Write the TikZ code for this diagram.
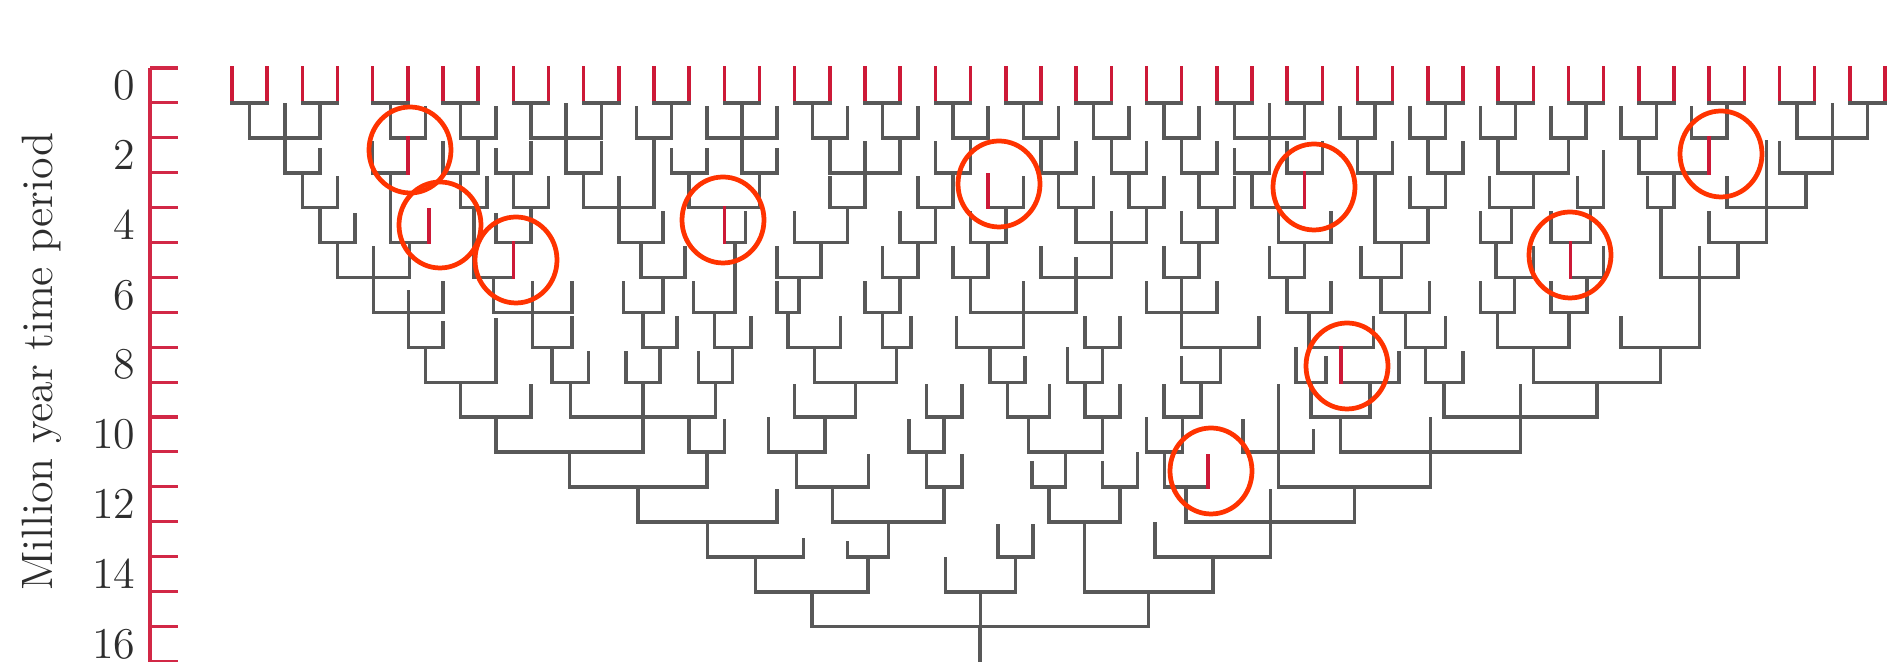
\documentclass[tikz,border=0pt]{standalone}
\usepackage{fontspec}
\definecolor{axred}{RGB}{210,40,70}
\definecolor{leafred}{RGB}{205,25,55}
\definecolor{treegray}{RGB}{88,88,88}
\definecolor{ringred}{RGB}{255,51,0}
\definecolor{labgray}{RGB}{45,45,45}
\tikzset{
  tl/.style={draw=treegray, line width=1pt, line cap=rect},
  rl/.style={draw=leafred, line width=1pt, line cap=rect},
  ringst/.style={draw=ringred, line width=1.35pt},
  ticklab/.style={font=\fontsize{12.5}{14}\selectfont, text=labgray, anchor=east, inner sep=0pt},
}
\newcommand\hb[3]{\draw[tl] (#2,#1) -- (#3,#1);}
\newcommand\vl[3]{\draw[tl] (#1,#2) -- (#1,#3);}
\newcommand\rv[3]{\draw[rl] (#1,#2) -- (#1,#3);}
\newcommand\ringat[3]{%
  \coordinate (#1) at (#2,#3);
  \draw[ringst] ({#2+41},#3) .. controls ({#2+41},{#3+23.75}) and ({#2+22.64},{#3+43}) .. (#2,{#3+43})
     .. controls ({#2-22.64},{#3+43}) and ({#2-41},{#3+23.75}) .. ({#2-41},#3)
     .. controls ({#2-41},{#3-23.75}) and ({#2-22.64},{#3-43}) .. (#2,{#3-43})
     .. controls ({#2+22.64},{#3-43}) and ({#2+41},{#3-23.75}) .. ({#2+41},#3) -- cycle;}
\begin{document}
\begin{tikzpicture}[x=0.01cm, y=-0.01cm]
\useasboundingbox (0,0) rectangle (1890,662);
\fill[white] (0,0) rectangle (1890,662);
% axis
\draw[axred, line width=0.9pt] (150,68) -- (150,662);
\foreach \k in {0,...,17} {\draw[axred, line width=0.9pt] (150,{68+34.9*\k}) -- (178,{68+34.9*\k});}
\foreach \n in {0,2,...,16} {\node[ticklab] (lab\n) at (136,{85.5+34.9*\n}) {\n};}
\node[rotate=90, text=labgray, font=\fontsize{12.5}{14}\selectfont] (title) at (42,362) {Million year time period};
\begin{scope}[shift={(232,68)}, x=0.3515cm, y=-0.349cm]
% leaves
\foreach \i in {0,...,23} {
  \draw[rl] ({2*\i},0) -- ({2*\i},1);
  \draw[rl] ({2*\i+1},0) -- ({2*\i+1},1);
  \draw[tl] ({2*\i},1) -- ({2*\i+1},1);
  \draw[tl] ({2*\i+0.5},1) -- ({2*\i+0.5},2);
}
% level 2
\foreach \s in {5.5,7.5,11.5,13.5,15.5,17.5,19.5,21.5,23.5,25.5,27.5,31.5,33.5,35.5,37.5,39.5,41.5} {\vl{\s}{1.15}{2}}
\foreach \s in {1.5,9.5,29.5,45.5} {\vl{\s}{1.05}{2}}
\foreach \a/\b in {0.5/2.5,4.5/5.5,6.5/7.5,8.5/10.5,11.5/12.5,13.5/15.5,16.5/17.5,18.5/19.5,20.5/21.5,22.5/23.5,24.5/25.5,26.5/27.5,28.5/30.5,31.5/32.5,33.5/34.5,35.5/36.5,37.5/38.5,39.5/40.5,41.5/42.5,44.5/46.5} {\hb{2}{\a}{\b}}
% level 3
\hb{3}{1.5}{2.5} \vl{1.5}{2}{3} \vl{2.5}{2.35}{3}
\hb{3}{4}{5} \vl{4}{2.15}{3} \rv{5}{2}{3}
\hb{3}{6}{7} \vl{6}{2.15}{3} \vl{7}{2}{3}
\hb{3}{7.5}{8.5} \vl{7.5}{2.35}{3} \vl{8.5}{2.15}{3}
\hb{3}{9.5}{10.5} \vl{9.5}{2}{3} \vl{10.5}{2.15}{3}
\hb{3}{12.5}{13.5} \vl{12.5}{2.35}{3} \vl{13.5}{2.35}{3}
\hb{3}{14.5}{15.5} \vl{14.5}{2}{3} \vl{15.5}{2.35}{3}
\hb{3}{17}{19} \vl{17}{2}{3} \vl{19}{2}{3} \vl{18}{2.15}{3}
\hb{3}{20}{21} \vl{20}{2.15}{3} \vl{21}{2}{3}
\hb{3}{23}{24} \vl{23}{2}{3} \vl{24}{2.15}{3}
\hb{3}{25}{26} \vl{25}{2}{3} \vl{26}{2.15}{3}
\hb{3}{27}{28} \vl{27}{2}{3} \vl{28}{2.15}{3}
\hb{3}{28.5}{29.5} \vl{28.5}{2.35}{3} \vl{29.5}{2}{3}
\hb{3}{30}{31} \vl{30}{2.15}{3} \vl{31}{2.15}{3}
\hb{3}{32}{33} \vl{32}{2}{3} \vl{33}{2.15}{3}
\hb{3}{34}{35} \vl{34}{2}{3} \vl{35}{2.15}{3}
\hb{3}{36}{38} \vl{36}{2}{3} \vl{38}{2}{3}
\hb{3}{40}{42} \vl{40}{2}{3} \rv{42}{2}{3}
\hb{3}{44}{45.5} \vl{44}{2.15}{3} \vl{45.5}{2}{3}
% level 4
\hb{4}{2}{3} \vl{2}{3}{4} \vl{3}{3.15}{4}
\hb{4}{6.5}{7.25} \vl{6.5}{3}{4} \vl{7.25}{3.15}{4}
\hb{4}{8}{9} \vl{8}{3}{4} \vl{9}{3.15}{4}
\hb{4}{10}{12} \vl{10}{3}{4} \vl{12}{2}{4} \vl{11}{3.15}{4}
\hb{4}{13}{15} \vl{13}{3}{4} \vl{15}{3}{4}
\hb{4}{17}{18} \vl{17}{3.15}{4} \vl{18}{3}{4}
\hb{4}{19.5}{20.5} \vl{19.5}{3.15}{4} \vl{20.5}{3}{4}
\hb{4}{21.5}{22.5} \rv{21.5}{3.05}{4} \vl{22.5}{3.15}{4}
\hb{4}{23.5}{24.5} \vl{23.5}{3}{4} \vl{24.5}{3.15}{4}
\hb{4}{25.5}{26.5} \vl{25.5}{3}{4} \vl{26.5}{3.15}{4}
\hb{4}{27.5}{28.5} \vl{27.5}{3}{4} \vl{28.5}{3.15}{4}
\hb{4}{29}{30.5} \vl{29}{3}{4} \rv{30.5}{3}{4}
\hb{4}{33.5}{34.5} \vl{33.5}{3.15}{4} \vl{34.5}{3}{4}
\hb{4}{35.75}{37} \vl{35.75}{3.15}{4} \vl{37}{3}{4}
\hb{4}{38.25}{39} \vl{38.25}{3.15}{4} \vl{39}{2.4}{4}
\hb{4}{40.25}{41} \vl{40.25}{3.15}{4} \vl{41}{3}{4}
\hb{4}{42.5}{44.75} \vl{42.5}{3.15}{4} \vl{44.75}{3}{4} \vl{43.625}{2.1}{4}
% level 5
\hb{5}{2.5}{3.5} \vl{2.5}{4}{5} \vl{3.5}{4.2}{5}
\hb{5}{4.5}{5.6} \vl{4.5}{3}{5} \rv{5.6}{4.05}{5}
\hb{5}{7.5}{8.5} \vl{7.5}{4.2}{5} \vl{8.5}{4}{5}
\hb{5}{11}{12.25} \vl{11}{4}{5} \vl{12.25}{4.15}{5}
\hb{5}{14}{14.6} \rv{14}{4}{5} \vl{14.6}{4.15}{5}
\hb{5}{16}{17.5} \vl{16}{4.15}{5} \vl{17.5}{4}{5}
\hb{5}{19}{20} \vl{19}{4.15}{5} \vl{20}{4}{5}
\hb{5}{21}{22} \vl{21}{4.15}{5} \vl{22}{4}{5}
\hb{5}{24}{26} \vl{24}{4}{5} \vl{26}{4}{5} \vl{25}{4.15}{5}
\hb{5}{27}{28} \vl{27}{4.15}{5} \vl{28}{4}{5}
\hb{5}{29.75}{31.25} \vl{29.75}{4}{5} \vl{31.25}{4.15}{5}
\hb{5}{32.5}{34} \vl{32.5}{3}{5} \vl{34}{4}{5}
\hb{5}{35.5}{36.375} \vl{35.5}{4.15}{5} \vl{36.375}{4}{5}
\hb{5}{37.5}{38.625} \vl{37.5}{4.15}{5} \vl{38.625}{4}{5}
\hb{5}{42}{43.625} \vl{42}{4.15}{5} \vl{43.625}{4}{5}
% level 6
\hb{6}{3}{5.05} \vl{3}{5}{6} \vl{5.05}{5}{6} \vl{4.025}{5.15}{6}
\hb{6}{6.875}{8} \vl{6.875}{4}{6} \rv{8}{5}{6}
\hb{6}{11.625}{12.875} \vl{11.625}{5}{6} \vl{12.875}{5.15}{6}
\hb{6}{15.5}{16.75} \vl{15.5}{5.15}{6} \vl{16.75}{5}{6}
\hb{6}{18.5}{19.5} \vl{18.5}{5.15}{6} \vl{19.5}{5}{6}
\hb{6}{20.5}{21.5} \vl{20.5}{5.15}{6} \vl{21.5}{5}{6}
\hb{6}{23}{25} \vl{23}{5.15}{6} \vl{25}{5}{6} \vl{24}{5.45}{6}
\hb{6}{26.5}{27.5} \vl{26.5}{5.15}{6} \vl{27.5}{5}{6}
\hb{6}{29.5}{30.5} \vl{29.5}{5.15}{6} \vl{30.5}{5}{6}
\hb{6}{32.1}{33.25} \vl{32.1}{5.15}{6} \vl{33.25}{5}{6}
\hb{6}{35.9375}{37} \vl{35.9375}{5}{6} \vl{37}{5.15}{6}
\hb{6}{38.0625}{39} \rv{38.0625}{5}{6} \vl{39}{5.15}{6}
\hb{6}{40.625}{42.8125} \vl{40.625}{4}{6} \vl{42.8125}{5}{6} \vl{41.72}{5.15}{6}
% level 7
\hb{7}{4.025}{6} \vl{4.025}{6}{7} \vl{6}{6.15}{7} \vl{5.0125}{6.4}{7}
\hb{7}{7.4375}{9.66} \vl{7.4375}{6}{7} \vl{9.66}{6.15}{7} \vl{8.55}{6.15}{7}
\hb{7}{11.125}{12.25} \vl{11.125}{6.15}{7} \vl{12.25}{6}{7}
\hb{7}{13.125}{14.3} \vl{13.125}{6.15}{7} \vl{14.3}{5}{7}
\hb{7}{15.5}{16.125} \vl{15.5}{6.15}{7} \vl{16.125}{6}{7}
\hb{7}{18}{19} \vl{18}{6.15}{7} \vl{19}{6}{7}
\hb{7}{21}{24} \vl{21}{6}{7} \vl{24}{6}{7} \vl{22.5}{6.15}{7}
\hb{7}{26}{28} \vl{26}{6.15}{7} \vl{28}{6.15}{7} \vl{27}{6}{7}
\hb{7}{30}{31.25} \vl{30}{6}{7} \vl{31.25}{6.15}{7}
\hb{7}{32.675}{34.05} \vl{32.675}{6}{7} \vl{34.05}{6.15}{7}
\hb{7}{35.5}{36.47} \vl{35.5}{6.15}{7} \vl{36.47}{6}{7}
\hb{7}{37.5}{38.53} \vl{37.5}{6.15}{7} \vl{38.53}{6}{7}
% level 8
\hb{8}{5.0125}{6} \vl{5.0125}{7}{8} \vl{6}{7.3}{8}
\hb{8}{8.55}{9.66} \vl{8.55}{7}{8} \vl{9.66}{7.15}{8}
\hb{8}{11.6875}{12.65} \vl{11.6875}{7}{8} \vl{12.65}{7.15}{8}
\hb{8}{13.7125}{14.75} \vl{13.7125}{7}{8} \vl{14.75}{7.15}{8}
\hb{8}{15.8125}{17.3} \vl{15.8125}{7}{8} \vl{17.3}{7.15}{8}
\hb{8}{18.5}{19.3} \vl{18.5}{7}{8} \vl{19.3}{7.15}{8}
\hb{8}{20.6}{22.5} \vl{20.6}{7.15}{8} \vl{22.5}{7}{8}
\hb{8}{24.25}{25.25} \vl{24.25}{7.15}{8} \vl{25.25}{7.15}{8}
\hb{8}{27}{29.2} \vl{27}{7}{8} \vl{29.2}{7.15}{8}
\hb{8}{30.625}{32.45} \vl{30.625}{7}{8} \vl{32.45}{7.15}{8}
\hb{8}{33.3625}{34.5} \vl{33.3625}{7}{8} \vl{34.5}{7.15}{8}
\hb{8}{35.985}{38.015} \vl{35.985}{7}{8} \vl{38.015}{7}{8}
\hb{8}{39.5}{41.72} \vl{39.5}{7.15}{8} \vl{41.72}{6}{8}
% level 9
\hb{9}{5.50625}{7.5} \vl{5.50625}{8}{9} \vl{7.5}{7.2}{9}
\hb{9}{9.105}{10.14} \vl{9.105}{8}{9} \vl{10.14}{8.15}{9}
\hb{9}{11.2}{12.16875} \vl{11.2}{8.15}{9} \vl{12.16875}{8}{9}
\hb{9}{13.27}{14.23125} \vl{13.27}{8.15}{9} \vl{14.23125}{8}{9}
\hb{9}{16.55625}{18.9} \vl{16.55625}{8}{9} \vl{18.9}{8}{9}
\hb{9}{21.55}{22.55} \vl{21.55}{8}{9} \vl{22.55}{8.3}{9}
\hb{9}{23.75}{24.75} \vl{23.75}{8.05}{9} \vl{24.75}{8}{9}
\hb{9}{27}{28.1} \vl{27}{8.3}{9} \vl{28.1}{8}{9}
\hb{9}{30.25}{31.1} \vl{30.25}{8.05}{9} \vl{31.1}{8.3}{9}
\hb{9}{31.5375}{33.18} \rv{31.5375}{8}{9} \vl{33.18}{8.15}{9}
\hb{9}{33.93}{35} \vl{33.93}{8}{9} \vl{35}{8.15}{9}
\hb{9}{37}{40.61} \vl{37}{8}{9} \vl{40.61}{8}{9}
% level 10
\hb{10}{6.503}{8.5} \vl{6.503}{9}{10} \vl{8.5}{9.1}{10}
\hb{10}{9.6225}{13.75} \vl{9.6225}{9}{10} \vl{13.75}{9}{10} \vl{11.684}{9}{10}
\hb{10}{16}{17.728} \vl{16}{9.1}{10} \vl{17.728}{9}{10}
\hb{10}{19.75}{20.75} \vl{19.75}{9.1}{10} \vl{20.75}{9.1}{10}
\hb{10}{22.05}{23.25} \vl{22.05}{9}{10} \vl{23.25}{9.1}{10}
\hb{10}{24.25}{25.25} \vl{24.25}{9}{10} \vl{25.25}{9.1}{10}
\hb{10}{26.5}{27.55} \vl{26.5}{9.1}{10} \vl{27.55}{9}{10}
\hb{10}{30.675}{32.36} \vl{30.675}{9}{10} \vl{32.36}{9}{10}
\hb{10}{34.465}{38.805} \vl{34.465}{9}{10} \vl{38.805}{9}{10} \vl{36.635}{9.1}{10}
% level 11
\hb{11}{7.5}{11.686} \vl{7.5}{10}{11} \vl{11.686}{10}{11}
\hb{11}{13}{14} \vl{13}{10.1}{11} \vl{14}{10.1}{11}
\hb{11}{15.25}{16.864} \vl{15.25}{10.05}{11} \vl{16.864}{10}{11}
\hb{11}{19.25}{20.25} \vl{19.25}{10.1}{11} \vl{20.25}{10}{11}
\hb{11}{22.65}{24.75} \vl{22.65}{10}{11} \vl{24.75}{10}{11}
\hb{11}{26}{27.025} \vl{26}{10.05}{11} \vl{27.025}{10}{11}
\hb{11}{28.75}{30.75} \vl{28.75}{10.1}{11} \vl{30.75}{10.4}{11} \vl{29.75}{9.1}{11}
\hb{11}{31.5175}{36.635} \vl{31.5175}{10}{11} \vl{36.635}{10}{11} \vl{34.076}{10.05}{11}
% level 12
\hb{12}{9.593}{13.5} \vl{9.593}{11}{12} \vl{13.5}{11}{12}
\hb{12}{16.057}{18.1} \vl{16.057}{11}{12} \vl{18.1}{11.1}{12}
\hb{12}{19.75}{20.75} \vl{19.75}{11}{12} \vl{20.75}{11.1}{12}
\hb{12}{22.75}{23.7} \vl{22.75}{11.3}{12} \vl{23.7}{11}{12}
\hb{12}{24.75}{25.75} \vl{24.75}{11.3}{12} \vl{25.75}{11.05}{12}
\hb{12}{26.5125}{27.75} \vl{26.5125}{11}{12} \rv{27.75}{11.1}{12}
\hb{12}{29.75}{34.076} \vl{29.75}{11}{12} \vl{34.076}{11}{12}
% level 13
\hb{13}{11.5465}{15.5} \vl{11.5465}{12}{13} \vl{15.5}{12.1}{13}
\hb{13}{17.0785}{20.25} \vl{17.0785}{12}{13} \vl{20.25}{12}{13}
\hb{13}{23.225}{25.25} \vl{23.225}{12}{13} \vl{25.25}{12}{13}
\hb{13}{27.131}{31.913} \vl{27.131}{12}{13} \vl{31.913}{12}{13} \vl{29.522}{12.1}{13}
% level 14
\hb{14}{13.523}{16.25} \vl{13.523}{13}{14} \vl{16.25}{13.5}{14}
\hb{14}{17.5}{18.664} \vl{17.5}{13.6}{14} \vl{18.664}{13}{14}
\hb{14}{21.78}{22.78} \vl{21.78}{13.1}{14} \vl{22.78}{13.1}{14}
\hb{14}{26.25}{29.522} \vl{26.25}{13.05}{14} \vl{29.522}{13}{14}
% level 15
\hb{15}{14.8865}{18.082} \vl{14.8865}{14}{15} \vl{18.082}{14}{15}
\hb{15}{20.28}{22.28} \vl{20.28}{14.05}{15} \vl{22.28}{14}{15}
\hb{15}{24.2375}{27.886} \vl{24.2375}{13}{15} \vl{27.886}{14}{15}
% level 16 and root
\hb{16}{16.484}{26.062} \vl{16.484}{15}{16} \vl{26.062}{15}{16} \vl{21.28}{15}{16}
\vl{21.273}{16}{17}
\end{scope}
% rings
\ringat{ringA}{410}{150}
\ringat{ringB}{440}{225}
\ringat{ringC}{516}{260}
\ringat{ringD}{723}{220}
\ringat{ringE}{999}{184}
\ringat{ringF}{1314}{187}
\ringat{ringG}{1721}{154}
\ringat{ringH}{1570}{255}
\ringat{ringI}{1347}{366}
\ringat{ringJ}{1211}{471}
\end{tikzpicture}
\end{document}
